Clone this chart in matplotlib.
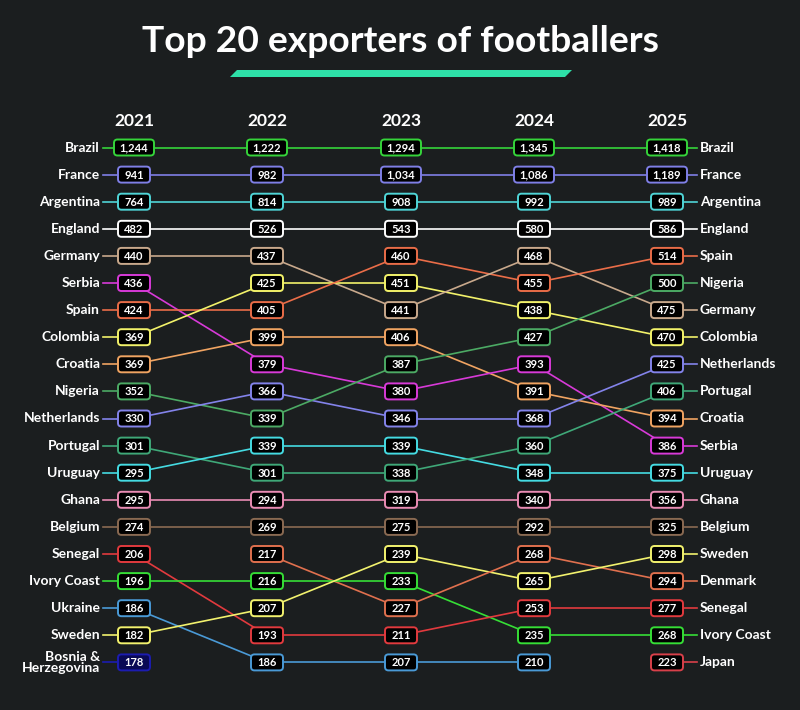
import matplotlib.pyplot as plt
from matplotlib.patches import FancyBboxPatch, Polygon

years = ['2021', '2022', '2023', '2024', '2025']

# countries in rank order per year, with player counts
rank_2021 = ['Brazil', 'France', 'Argentina', 'England', 'Germany', 'Serbia', 'Spain',
             'Colombia', 'Croatia', 'Nigeria', 'Netherlands', 'Portugal', 'Uruguay',
             'Ghana', 'Belgium', 'Senegal', 'Ivory Coast', 'Ukraine', 'Sweden',
             'Bosnia & Herzegovina']
vals_2021 = [1244, 941, 764, 482, 440, 436, 424, 369, 369, 352, 330, 301, 295, 295,
             274, 206, 196, 186, 182, 178]

rank_2022 = ['Brazil', 'France', 'Argentina', 'England', 'Germany', 'Colombia', 'Spain',
             'Croatia', 'Serbia', 'Netherlands', 'Nigeria', 'Uruguay', 'Portugal',
             'Ghana', 'Belgium', 'Denmark', 'Ivory Coast', 'Sweden', 'Senegal', 'Ukraine']
vals_2022 = [1222, 982, 814, 526, 437, 425, 405, 399, 379, 366, 339, 339, 301, 294,
             269, 217, 216, 207, 193, 186]

rank_2023 = ['Brazil', 'France', 'Argentina', 'England', 'Spain', 'Colombia', 'Germany',
             'Croatia', 'Nigeria', 'Serbia', 'Netherlands', 'Uruguay', 'Portugal',
             'Ghana', 'Belgium', 'Sweden', 'Ivory Coast', 'Denmark', 'Senegal', 'Ukraine']
vals_2023 = [1294, 1034, 908, 543, 460, 451, 441, 406, 387, 380, 346, 339, 338, 319,
             275, 239, 233, 227, 211, 207]

rank_2024 = ['Brazil', 'France', 'Argentina', 'England', 'Germany', 'Spain', 'Colombia',
             'Nigeria', 'Serbia', 'Croatia', 'Netherlands', 'Portugal', 'Uruguay',
             'Ghana', 'Belgium', 'Denmark', 'Sweden', 'Senegal', 'Ivory Coast', 'Ukraine']
vals_2024 = [1345, 1086, 992, 580, 468, 455, 438, 427, 393, 391, 368, 360, 348, 340,
             292, 268, 265, 253, 235, 210]

rank_2025 = ['Brazil', 'France', 'Argentina', 'England', 'Spain', 'Nigeria', 'Germany',
             'Colombia', 'Netherlands', 'Portugal', 'Croatia', 'Serbia', 'Uruguay',
             'Ghana', 'Belgium', 'Sweden', 'Denmark', 'Senegal', 'Ivory Coast', 'Japan']
vals_2025 = [1418, 1189, 989, 586, 514, 500, 475, 470, 425, 406, 394, 386, 375, 356,
             325, 298, 294, 277, 268, 223]

ranks = [rank_2021, rank_2022, rank_2023, rank_2024, rank_2025]
vals = [vals_2021, vals_2022, vals_2023, vals_2024, vals_2025]

colors = {
    'Brazil': '#35d43a', 'France': '#7f7fe6', 'Argentina': '#4fd4d6',
    'England': '#ffffff', 'Germany': '#c9a98c', 'Serbia': '#d83ad8',
    'Spain': '#ea6d48', 'Colombia': '#f2f26a', 'Croatia': '#f0a462',
    'Nigeria': '#4caa64', 'Netherlands': '#8383ea', 'Portugal': '#3fa878',
    'Uruguay': '#45dbe2', 'Ghana': '#ea8cb4', 'Belgium': '#8a6a52',
    'Senegal': '#e23a3e', 'Ivory Coast': '#36de36', 'Ukraine': '#4a9ad6',
    'Sweden': '#f2f26e', 'Bosnia & Herzegovina': '#1c1cb0', 'Denmark': '#e0704e',
    'Japan': '#d8404a',
}

bg = '#1b1e1f'
col_x = [134, 267, 401, 534, 667]
row_y0, row_dy = 147.5, 27.1


def row_y(r):
    return row_y0 + r * row_dy


def box_w(v):
    return 40 if v >= 1000 else 32


fig = plt.figure(figsize=(8, 7.1), dpi=100, facecolor=bg)
ax = fig.add_axes([0, 0, 1, 1])
ax.set_xlim(0, 800)
ax.set_ylim(710, 0)
ax.axis('off')
ax.set_facecolor(bg)

font = 'Lato'

# title + accent bar
ax.text(400, 41, 'Top 20 exporters of footballers', color='white', fontsize=26.8,
        fontweight='bold', family=font, ha='center', va='center')
ax.add_patch(Polygon([(230, 77), (237, 70), (572, 70), (565, 77)], closed=True,
                     facecolor='#2ee0a8', edgecolor='none'))

for i, yr in enumerate(years):
    ax.text(col_x[i], 121, yr, color='white', fontsize=12.5, fontweight='bold',
            family=font, ha='center', va='center')

# connecting lines
for i in range(len(years) - 1):
    for r, c in enumerate(ranks[i]):
        if c in ranks[i + 1]:
            r2 = ranks[i + 1].index(c)
            ax.plot([col_x[i], col_x[i + 1]], [row_y(r), row_y(r2)],
                    color=colors[c], lw=1.2, zorder=2, solid_capstyle='butt')

# side labels with short stubs
for r, c in enumerate(rank_2021):
    y = row_y(r)
    ax.plot([103, col_x[0]], [y, y], color=colors[c], lw=1.2, zorder=2)
    ax.text(100, y, c.replace(' & ', ' &\n'), color='white', fontsize=10,
            fontweight='bold', family=font, ha='right', va='center', linespacing=0.95)
for r, c in enumerate(rank_2025):
    y = row_y(r)
    ax.plot([col_x[-1], 697], [y, y], color=colors[c], lw=1.2, zorder=2)
    ax.text(700, y, c, color='white', fontsize=10, fontweight='bold',
            family=font, ha='left', va='center')

# value boxes
for i in range(len(years)):
    for r, (c, v) in enumerate(zip(ranks[i], vals[i])):
        y = row_y(r)
        w, h = box_w(v), 16
        face = '#0a0a55' if c == 'Bosnia & Herzegovina' else 'black'
        ax.add_patch(FancyBboxPatch((col_x[i] - w / 2, y - h / 2), w, h,
                                    boxstyle='round,pad=0,rounding_size=3.5',
                                    facecolor=face, edgecolor=colors[c], lw=1.4,
                                    zorder=3))
        ax.text(col_x[i], y + 0.5, f'{v:,}', color='white', fontsize=8,
                fontweight='bold', family=font, ha='center', va='center', zorder=4)

fig.savefig('out.png', dpi=100, facecolor=bg)
